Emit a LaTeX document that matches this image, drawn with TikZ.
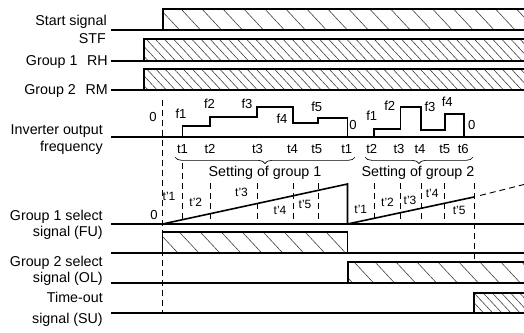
\documentclass[tikz,border=0pt]{standalone}
\usepackage{fontspec}
\setmainfont{Liberation Sans}
\usetikzlibrary{patterns.meta,decorations.pathreplacing}

\begin{document}
\begin{tikzpicture}[x=0.75pt, y=-0.75pt,
		sig/.style={line width=1.4pt},
		ramp/.style={line width=1.2pt},
		guide/.style={line width=0.7pt, dash pattern=on 4.5pt off 3pt},
		lbl/.style={anchor=base east, inner sep=0pt, font=\fontsize{10.7}{12}\selectfont},
		val/.style={anchor=base, inner sep=0pt, font=\fontsize{9.8}{11}\selectfont},
		tp/.style={anchor=base, inner sep=0pt, font=\fontsize{9}{10}\selectfont},
		sparse/.style={pattern={Lines[angle=-47,distance=11.5pt,line width=0.45pt]}, pattern color=black!75},
		dense/.style={pattern={Lines[angle=-47,distance=5pt,line width=0.45pt]}, pattern color=black!75}]
		\useasboundingbox (0,0) rectangle (524,332);
		\def\level#1#2#3#4#5{\fill[#5] (#1,#4) rectangle (#2,#3); \draw[sig] (111,#3) -- (530,#3); \draw[sig] (#1,#3) -- (#1,#4) -- (#2,#4) -- (#2,#3);}
		% input signals
		\level{163}{530}{30}{9}{sparse}
		\level{144}{530}{61}{39}{dense}
		\level{144}{530}{90}{69}{dense}
		\node[lbl] (stfa) at (107,26) {Start signal};
		\node[lbl] (stfb) at (106,43.3) {STF};
		\node[lbl] (rh) at (108,65) {Group 1\hspace{0.4em} RH};
		\node[lbl] (rm) at (108,94.3) {Group 2\hspace{0.4em} RM};
		% start line
		\draw[guide] (162.5,100) -- (162.5,313);
		% inverter output frequency
		\draw[sig] (111,137) -- (530,137);
		\draw[sig] (182.5,137) -- (182.5,126) -- (210,126) -- (210,117) -- (257,117) -- (257,107) -- (293,107) -- (293,123) -- (318,123) -- (318,118) -- (347.5,118) -- (347.5,137);
		\draw[sig] (374,137) -- (374,129) -- (400.5,129) -- (400.5,107) -- (421,107) -- (421,130) -- (445,130) -- (445,114) -- (464,114) -- (464,137);
		\node[lbl] (freqa) at (103,134.3) {Inverter output};
		\node[lbl] (freqb) at (103,151) {frequency};
		\node[val] (za) at (153,121.7) {0};
		\node[val] (zb) at (353,129.3) {0};
		\node[val] (zc) at (471.7,129.3) {0};
		\foreach \x/\y/\t [count=\i] in {181/118.3/f1, 209.5/108.3/f2, 247/108.3/f3, 282/123.3/f4, 316.7/111.7/f5}
			\node[val] (fa\i) at (\x,\y) {\t};
		\foreach \x/\y/\t [count=\i] in {371.7/120.7/f1, 389.7/110/f2, 430/111.7/f3, 447.3/106.7/f4}
			\node[val] (fb\i) at (\x,\y) {\t};
		\foreach \x/\t [count=\i] in {182.5/t1, 210/t2, 257.5/t3, 292.5/t4, 316.7/t5, 346.7/t1, 371.7/t2, 399/t3, 420/t4, 444.7/t5, 463.3/t6}
			\node[val] (t\i) at (\x,153.3) {\t};
		% settings
		\draw[line width=0.5pt, decorate, decoration={brace, mirror, amplitude=5pt}] (175,157) -- (355,157);
		\draw[line width=0.5pt, decorate, decoration={brace, mirror, amplitude=5pt}] (365,157) -- (473,157);
		\node[anchor=base, inner sep=0pt, font=\fontsize{10.7}{12}\selectfont] (seta) at (265,176) {Setting of group 1};
		\node[anchor=base, inner sep=0pt, font=\fontsize{10.7}{12}\selectfont] (setb) at (418,176) {Setting of group 2};
		\draw[guide] (182.5,163) -- (182.5,224);
		\foreach \x in {210,257,293,318,374,400.5,421,444.5}
			\draw[guide] (\x,183) -- (\x,224);
		\draw[guide] (474,183) -- (474,262);
		% group select signals
		\draw[sig] (111,224) -- (530,224);
		\draw[ramp] (162.5,224) -- (347.5,184) -- (347.5,224);
		\draw[ramp] (347.5,224) -- (474,197);
		\draw[guide] (480,195.5) -- (530,183);
		\node[val] (zd) at (154,219.3) {0};
		\foreach \x/\y [count=\i] in {169/200.7, 195.8/206.7, 241.5/196, 280/214, 305/208.3}
			\node[tp] (ua\i) at (\x,\y) {t'\i};
		\foreach \x/\y [count=\i] in {360.8/213.3, 387.5/206.7, 410/204, 432.2/197.3, 459.2/214}
			\node[tp] (ub\i) at (\x,\y) {t'\i};
		\node[lbl] (fua) at (103,220.7) {Group 1 select};
		\node[lbl] (fub) at (103,236.5) {signal (FU)};
		\level{162.5}{347.5}{253}{232}{sparse}
		\node[lbl] (ola) at (103,266.7) {Group 2 select};
		\node[lbl] (olb) at (103,282.3) {signal (OL)};
		\level{348}{530}{283}{262}{sparse}
		% time-out
		\node[lbl] (sua) at (103,302.3) {Time-out};
		\node[lbl] (sub) at (103,323) {signal (SU)};
		\level{474}{530}{313}{293}{dense}
	\end{tikzpicture}
\end{document}
